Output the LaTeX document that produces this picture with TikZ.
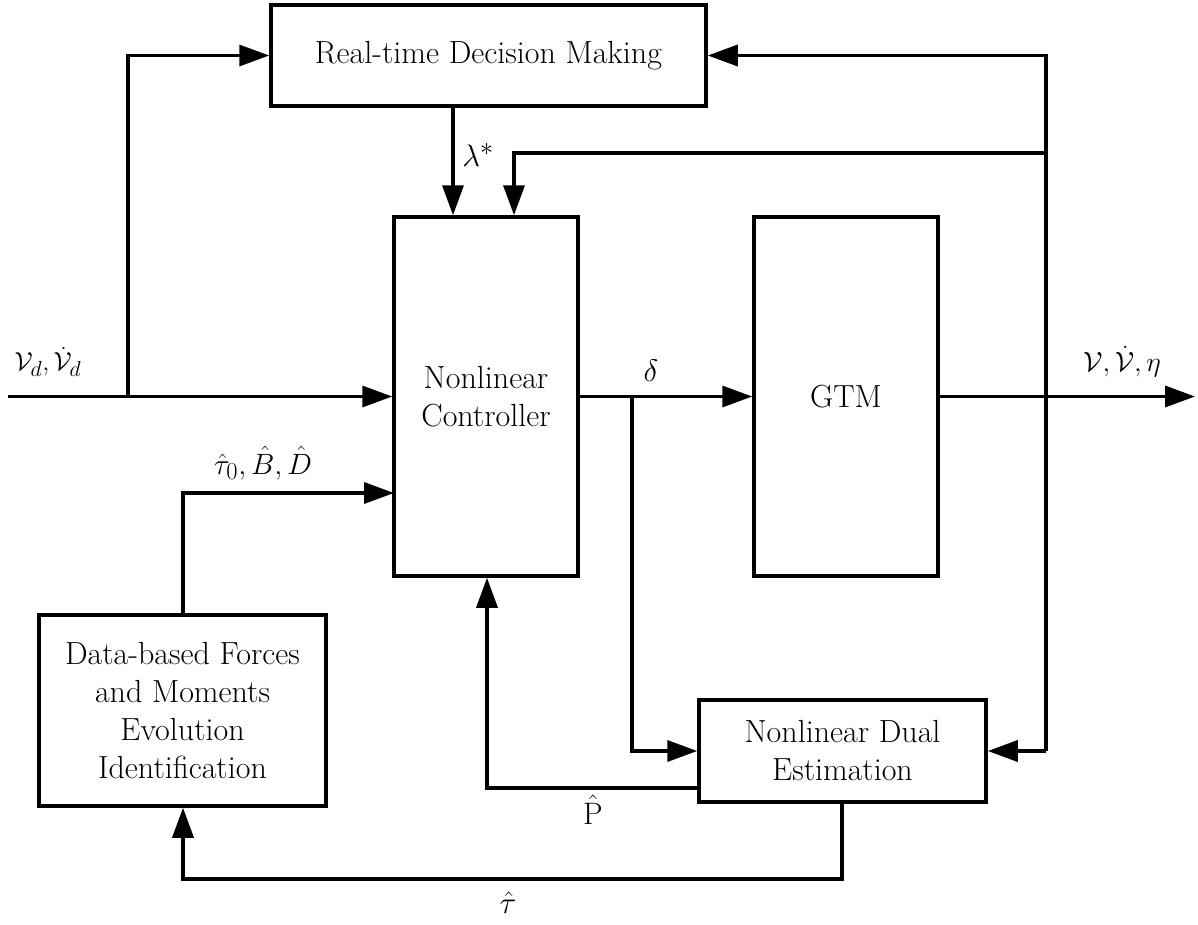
\documentclass[tikz,border=0pt]{standalone}
\usetikzlibrary{arrows.meta}
\begin{document}
\begin{tikzpicture}[x=1pt,y=-1pt,
 blk/.style={draw,line width=3.5pt,inner sep=0pt,align=center,font=\fontsize{32}{38}\selectfont},
 ln/.style={line width=3.5pt},
 arr/.style={line width=3.5pt,-{Triangle[length=30pt,width=21pt]}},
 lbl/.style={font=\fontsize{24.88}{30}\selectfont,inner sep=1pt}]
\useasboundingbox (0,0) rectangle (1198,924);
% blocks
\node[blk,minimum width=435pt,minimum height=101pt] (dec) at (488.5,55.5) {Real-time Decision Making};
\node[blk,minimum width=184pt,minimum height=359pt] (ctrl) at (486,396.5) {Nonlinear\\Controller};
\node[blk,minimum width=184pt,minimum height=359pt] (gtm) at (846,396.5) {GTM};
\node[blk,minimum width=287pt,minimum height=191pt] (data) at (182.5,710.5) {Data-based Forces\\and Moments\\Evolution\\Identification};
\node[blk,minimum width=287pt,minimum height=102pt] (dual) at (842.5,751) {Nonlinear Dual\\Estimation};
% coordinates
\coordinate (in) at (8,396.5);
\coordinate (br1) at (128,396.5);
\coordinate (br1t) at (128,55.5);
\coordinate (out) at (1195,396.5);
\coordinate (fbt) at (1046,55.5);
\coordinate (fbm) at (1046,153);
\coordinate (fbb) at (1046,751);
\coordinate (fbl) at (514,153);
\coordinate (lamx) at (453,0);
\coordinate (dl) at (632,396.5);
\coordinate (dlb) at (632,751);
\coordinate (pl) at (487,788);
\coordinate (plr) at (699,788);
\coordinate (tb) at (842,879);
\coordinate (tbl) at (183,879);
\coordinate (tt) at (183,493);
\coordinate (ttr) at (394,493);
% connectors
\draw[arr] (in) -- (ctrl.west);
\draw[arr] (br1) -- (br1t) -- (dec.west);
\draw[arr] (dec.south -| lamx) -- (ctrl.north -| lamx);
\draw[arr] (gtm.east) -- (out);
\draw[arr] (fbb) -- (fbt) -- (dec.east);
\draw[arr] (fbm) -- (fbl) -- (ctrl.north -| fbl);
\draw[arr] (fbb) -- (dual.east);
\draw[arr] (ctrl.east) -- (gtm.west);
\draw[arr] (dl) -- (dlb) -- (dual.west);
\draw[arr] (plr) -- (pl) -- (ctrl.south -| pl);
\draw[arr] (dual.south -| tb) -- (tb) -- (tbl) -- (data.south -| tbl);
\draw[arr] (data.north -| tt) -- (tt) -- (ttr);
% labels
\node[lbl] (lin) at (48,362) {\scalebox{1.05}{$\mathcal{V}_d,\dot{\mathcal{V}}_d$}};
\node[lbl] (lout) at (1122,362) {\scalebox{1.12}{$\mathcal{V},\dot{\mathcal{V}},\eta$}};
\node[lbl] (llam) at (478,155) {\scalebox{1.25}{$\lambda^*$}};
\node[lbl] (ldel) at (651,371) {\scalebox{1.25}{$\delta$}};
\node[lbl] (ltau0) at (263,463) {\scalebox{1.18}{$\hat{\tau}_0,\hat{B},\hat{D}$}};
\node[lbl] (lP) at (593,810) {\scalebox{1.25}{$\hat{\mathrm{P}}$}};
\node[lbl] (ltau) at (508,903) {\scalebox{1.25}{$\hat{\tau}$}};
\end{tikzpicture}
\end{document}
